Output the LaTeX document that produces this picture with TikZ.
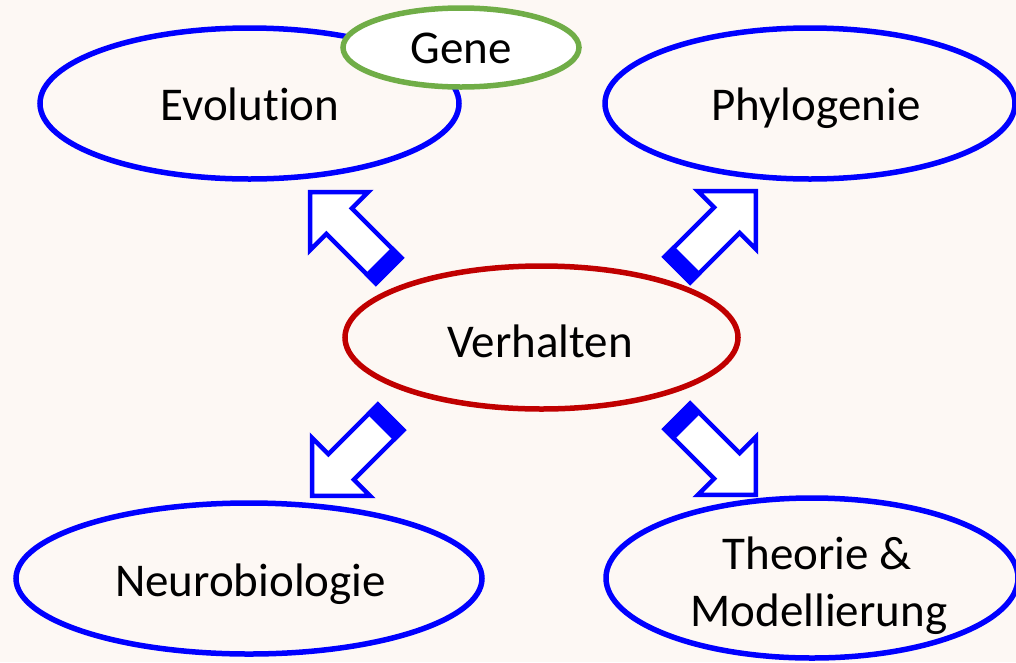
\documentclass[tikz,border=0pt]{standalone}
\usepackage{fontspec}
\setmainfont[Ligatures=NoCommon]{Carlito}
\usetikzlibrary{shapes.geometric}

\definecolor{slidebg}{HTML}{FDF8F4}
\definecolor{topicblue}{RGB}{0,0,255}
\definecolor{corered}{RGB}{192,0,0}
\definecolor{genegreen}{RGB}{112,173,71}

\tikzset{
  topic/.style={ellipse, draw=topicblue, line width=5.5pt, fill=slidebg, inner sep=0pt},
  core/.style={topic, draw=corered},
  gene/.style={topic, draw=genegreen, fill=white},
  lbl/.style={anchor=base, inner sep=0pt, font=\fontsize{47}{57}\selectfont, align=center},
  arrowline/.style={draw=topicblue, line width=4.5pt, line join=miter, fill=white},
  % hollow block arrow, tip at the origin, pointing along +x, with a solid band at the tail
  blockarrow/.pic={
    \draw[arrowline] (-3,0) -- (-44,41) -- (-44,18) -- (-114,18)
                     -- (-114,-18) -- (-44,-18) -- (-44,-41) -- cycle;
    \draw[arrowline, fill=topicblue] (-114,-18) rectangle (-102,18);
  }
}

\begin{document}
\begin{tikzpicture}[x=1pt,y=-1pt]
  \fill[slidebg] (0,0) rectangle (1016,662);
  \useasboundingbox (0,0) rectangle (1016,662);

  % outer topics
  \node[topic, minimum width=419pt, minimum height=151pt] (evo)   at (249.5,103.5) {};
  \node[gene,  minimum width=236pt, minimum height=79pt]  (gene)  at (461,47.5) {};
  \node[topic, minimum width=410pt, minimum height=151pt] (phylo) at (810,103.5) {};
  \node[topic, minimum width=466pt, minimum height=151pt] (neuro) at (249,578.5) {};
  \node[topic, minimum width=412pt, minimum height=160pt] (theo)  at (812,578) {};

  % central topic
  \node[core, minimum width=393pt, minimum height=143pt] (verh) at (541.5,337.5) {};

  % labels, set on their baselines
  \node[lbl] (evo-t)   at (250,120.5) {Evolution};
  \node[lbl] (gene-t)  at (461,63.5)  {Gene};
  \node[lbl] (phylo-t) at (816,120.5) {Phylogenie};
  \node[lbl] (verh-t)  at (540,357.5) {Verhalten};
  \node[lbl] (neuro-t) at (250.5,596) {Neurobiologie};
  \node[lbl] (theo-t1) at (817,569)   {Theorie \&};
  \node[lbl] (theo-t2) at (819,626)   {Modellierung};

  % arrows from the centre towards the four topics
  \coordinate (tip-ul) at (308,190);
  \coordinate (tip-ur) at (758,189);
  \coordinate (tip-ll) at (310,498);
  \coordinate (tip-lr) at (758,497);
  \pic[rotate=135]  at (tip-ul) {blockarrow};
  \pic[rotate=45]   at (tip-ur) {blockarrow};
  \pic[rotate=225]  at (tip-ll) {blockarrow};
  \pic[rotate=-45]  at (tip-lr) {blockarrow};
\end{tikzpicture}
\end{document}
